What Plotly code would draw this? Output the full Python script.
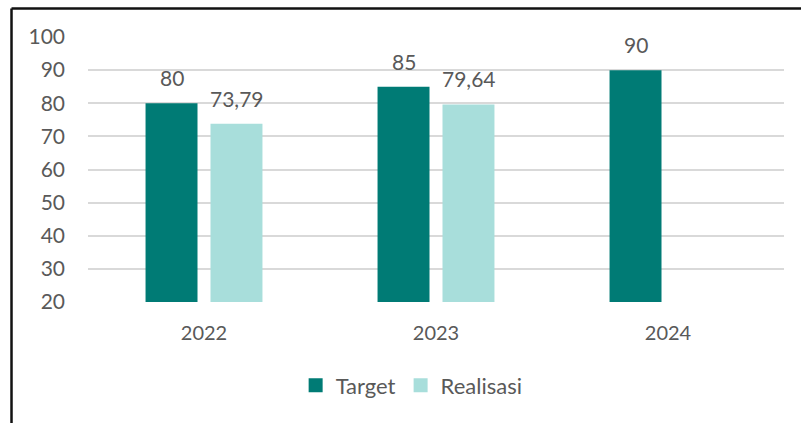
import plotly.graph_objects as go

years = ["2022", "2023", "2024"]
target = [80, 85, 90]
realisasi = [73.79, 79.64, None]
y_ticks = [20, 30, 40, 50, 60, 70, 80, 90, 100]

FONT = "Lato"
TXT = "#595959"
C_TARGET = "#007B75"
C_REAL = "#A8DEDB"


def fmt(v):
    if v is None:
        return ""
    if float(v).is_integer():
        return str(int(v))
    return f"{v:.2f}".replace(".", ",")


fig = go.Figure()
fig.add_trace(go.Bar(name="Target", x=years, y=target, marker_color=C_TARGET,
                     marker_line_width=0, showlegend=False))
fig.add_trace(go.Bar(name="Realisasi", x=years, y=realisasi, marker_color=C_REAL,
                     marker_line_width=0, showlegend=False))
# legend entries with larger square swatches
for name, col in (("Target", C_TARGET), ("Realisasi", C_REAL)):
    fig.add_trace(go.Scatter(name=name, x=[None], y=[None], mode="markers",
                             marker=dict(symbol="square", size=14, color=col),
                             showlegend=True, hoverinfo="skip"))

annotations = []
for series, shift in ((target, -32.5), (realisasi, 32.5)):
    for i, v in enumerate(series):
        if v is None:
            continue
        annotations.append(dict(x=i, y=v, xref="x", yref="y", text=fmt(v),
                                showarrow=False, xshift=shift, yshift=11,
                                yanchor="bottom", xanchor="center",
                                font=dict(family=FONT, size=21, color=TXT)))

fig.update_layout(
    width=801, height=423,
    margin=dict(l=88, r=17, t=37, b=121, autoexpand=False),
    paper_bgcolor="white", plot_bgcolor="white",
    barmode="group", bargap=0.44, bargroupgap=0.2,
    font=dict(family=FONT, size=20, color=TXT),
    showlegend=True,
    legend=dict(orientation="h", x=0.465, xanchor="center", y=-0.315, yanchor="middle",
                font=dict(family=FONT, size=22, color=TXT), itemwidth=30,
                traceorder="normal"),
    annotations=annotations,
    shapes=[
        dict(type="line", xref="paper", yref="paper", x0=-0.1099, x1=1.05,
             y0=1.1075, y1=1.1075, line=dict(color="#111111", width=2.5)),
        dict(type="line", xref="paper", yref="paper", x0=-0.1099, x1=-0.1099,
             y0=1.1075, y1=-0.47, line=dict(color="#111111", width=2.5)),
    ],
)
fig.update_yaxes(range=[20, 100], tickvals=y_ticks, showgrid=True,
                 gridcolor="#D9D9D9", gridwidth=1.5, zeroline=False,
                 showline=False, ticklabelstandoff=22, automargin=False,
                 tickfont=dict(family=FONT, size=21, color=TXT))
fig.update_xaxes(type="category", range=[-0.5, 2.5], showline=False, showgrid=False,
                 ticklabelstandoff=17, automargin=False,
                 tickfont=dict(family=FONT, size=20, color=TXT))

fig.write_html("out.html", post_script="document.body.style.margin='0';",
               config={"displayModeBar": False})
